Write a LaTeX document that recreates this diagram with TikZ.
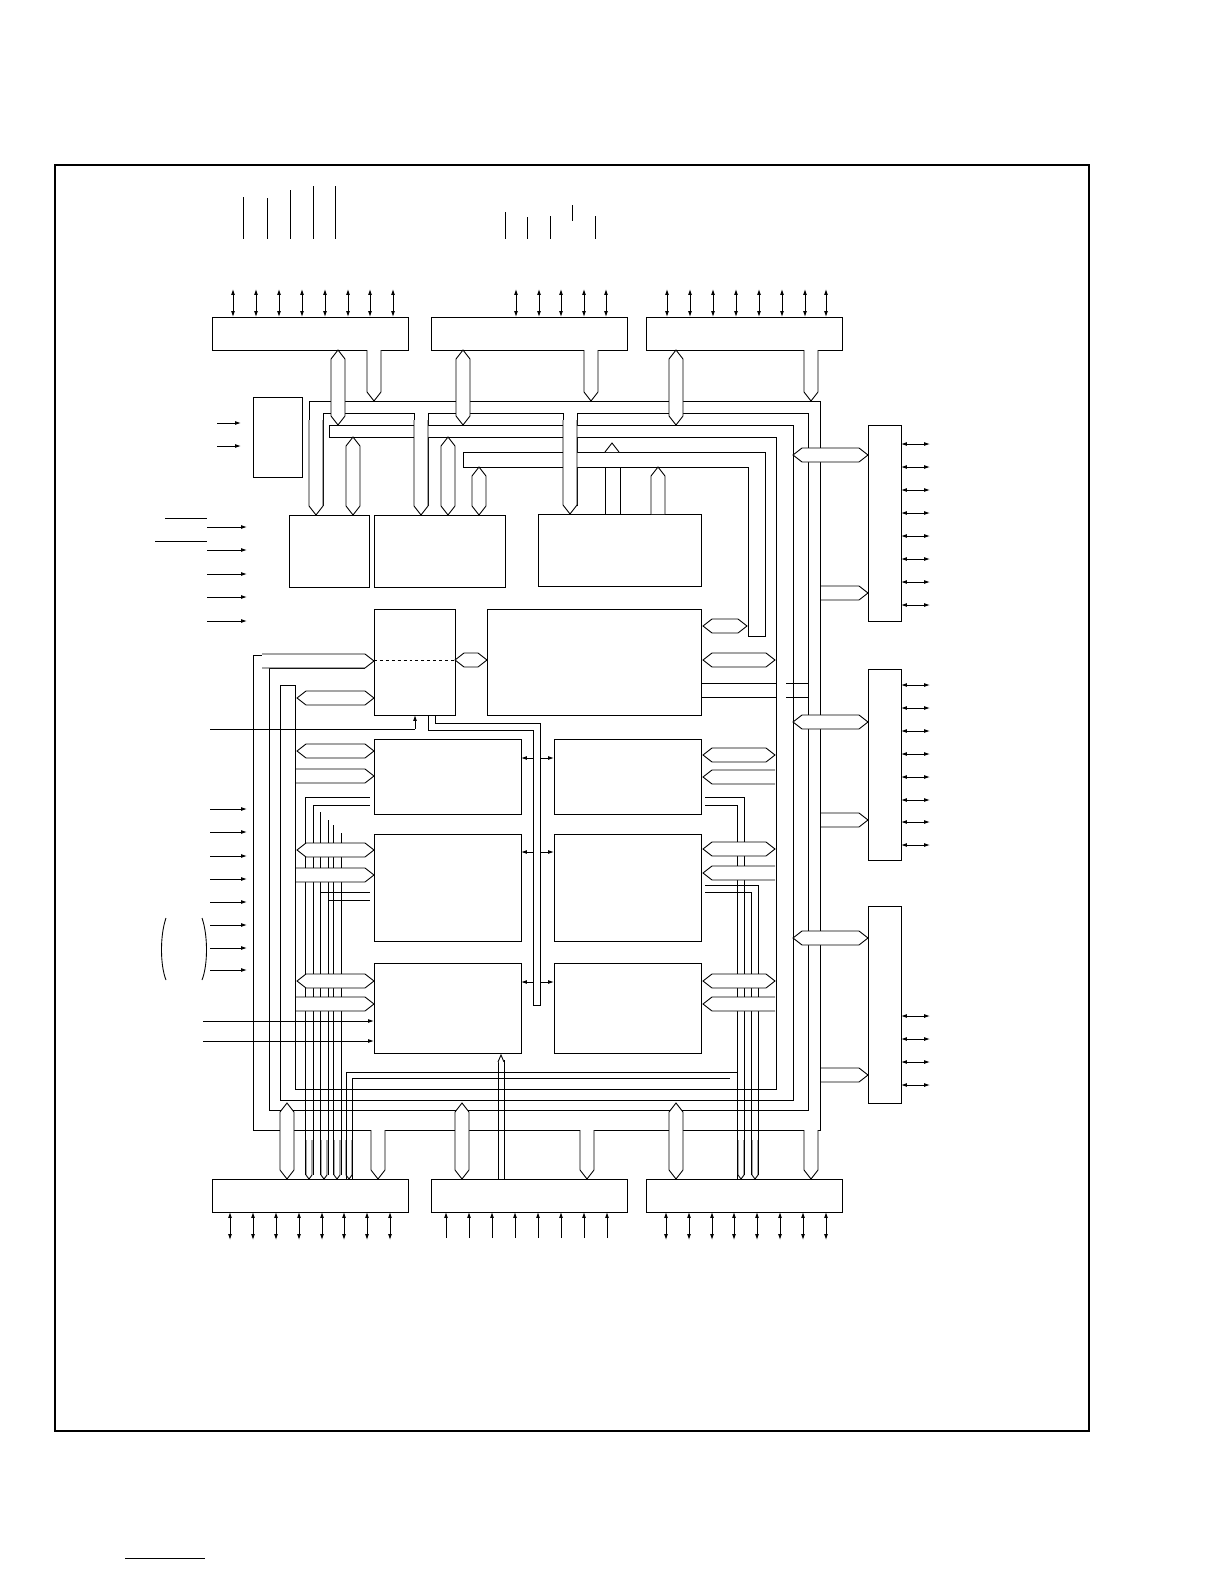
\documentclass[tikz,border=0pt]{standalone}
\usetikzlibrary{arrows.meta}
\newcommand\vbus[3]{\draw[bus] (#1-7,#2+9)--(#1,#2)--(#1+7,#2+9)--(#1+7,#3-9)--(#1,#3)--(#1-7,#3-9)--cycle;}
\newcommand\vbusdn[3]{\draw[bus] (#1-7,#2)--(#1-7,#3-9)--(#1,#3)--(#1+7,#3-9)--(#1+7,#2);}
\newcommand\vbusup[3]{\draw[bus] (#1-7,#3)--(#1-7,#2+9)--(#1,#2)--(#1+7,#2+9)--(#1+7,#3);}
\newcommand\hbus[3]{\draw[bus] (#2+9,#1-7)--(#2,#1)--(#2+9,#1+7)--(#3-9,#1+7)--(#3,#1)--(#3-9,#1-7)--cycle;}
\newcommand\hbusR[3]{\draw[bus] (#2,#1-7)--(#3-9,#1-7)--(#3,#1)--(#3-9,#1+7)--(#2,#1+7);}
\newcommand\hbusL[3]{\draw[bus] (#3,#1-7)--(#2+9,#1-7)--(#2,#1)--(#2+9,#1+7)--(#3,#1+7);}
\newcommand\thinv[3]{\draw[ln] (#1-3,#2)--(#1-3,#3-4)--(#1,#3)--(#1+3,#3-4)--(#1+3,#2);}
\tikzset{ln/.style={line width=0.9pt},bus/.style={ln,fill=white},
 blk/.style={line width=1pt,fill=white},
 dar/.style={ln,{Latex[length=6pt,width=4pt]}-{Latex[length=6pt,width=4pt]}},
 sar/.style={ln,-{Latex[length=6pt,width=4pt]}}}
\begin{document}
\begin{tikzpicture}[x=1.0103bp,y=-1.0103bp]
\useasboundingbox (0,0) rectangle (1224,1584);
\draw[line width=1.2pt] (55,165) rectangle (1089,1431);
\draw[ln] (125,1558)--(205,1558);
\foreach \x/\a in {243/197,267/198,290/190,313/186,335/186,505/212,527/217,550/216,595/216}
  \draw[ln] (\x,\a)--(\x,239);
\draw[ln] (572,205)--(572,221);
\draw[ln] (309,506)--(309,401)--(820,401)--(820,1130)--(253,1130)--(253,655)--(365,655);
\draw[ln] (323,506)--(323,413)--(414,413)--(414,506);
\draw[ln] (428,506)--(428,413)--(563,413)--(563,506);
\draw[ln] (577,506)--(577,413)--(808,413)--(808,1110)--(269,1110)--(269,668)--(365,668);
\draw[bus] (280,685)--(295,685)--(295,1089)--(776,1089)--(776,437)--(329,437)--(329,425)--(793,425)--(793,1100)--(280,1100)--cycle;
\draw[bus] (463,452)--(765,452)--(765,636)--(748,636)--(748,467)--(463,467)--cycle;
\draw[ln] (605,467)--(605,514) (620,467)--(620,514);
\draw[bus] (605,452)--(612,443)--(619,452);
\draw[ln] (701,683)--(776,683) (701,697)--(776,697);
\draw[ln] (786,683)--(808,683) (786,697)--(808,697);
\draw[bus] (428,715)--(428,730)--(533,730)--(533,1005)--(540,1005)--(540,723)--(435,723)--(435,715);
\draw[ln] (346,1179)--(346,1072)--(737,1072)--(737,1179);
\draw[ln] (352,1179)--(352,1078)--(730,1078);
\foreach \x in {305,320,333}{\draw[ln] (\x,797+\x-305)--(\x,1175);}
\foreach \x in {313,328,341}{\draw[ln] (\x,805+\x-313)--(\x,1175);}
\draw[ln] (305,797)--(370,797) (313,805)--(370,805);
\draw[ln] (320,892)--(370,892) (328,900)--(370,900);
\draw[ln] (744,797)--(705,797) (737,805)--(705,805);
\draw[ln] (744,797)--(744,1175) (737,805)--(737,1072);
\draw[ln] (751,892)--(705,892) (758,885)--(705,885);
\draw[ln] (751,892)--(751,1175) (758,885)--(758,1175);
\draw[ln] (498,1060)--(498,1179) (504,1060)--(504,1179);
\draw[bus] (498,1062)--(501,1055)--(504,1062);
\draw[blk] (253,397) rectangle (302,477);
\draw[blk] (289,515) rectangle (369,587);
\draw[blk] (374,515) rectangle (505,587);
\draw[blk] (538,514) rectangle (701,586);
\draw[blk] (374,609) rectangle (455,715);
\draw[blk] (487,609) rectangle (701,715);
\foreach \y/\h in {739/814,834/941,963/1053}{
 \draw[blk] (374,\y) rectangle (521,\h);
 \draw[blk] (554,\y) rectangle (701,\h);}
\draw[ln,dashed] (374,660)--(455,660);
\foreach \x in {212,431,646}{
 \draw[blk] (\x,317) rectangle ++(196,33);
 \draw[blk] (\x,1179) rectangle ++(196,33);}
\draw[blk] (868,425) rectangle (901,621);
\draw[blk] (868,669) rectangle (901,860);
\draw[blk] (868,906) rectangle (901,1103);
\vbus{338}{350}{425}\vbusdn{374}{350}{401}
\vbus{463}{350}{425}\vbusdn{591}{350}{401}
\vbus{676}{350}{425}\vbusdn{811}{350}{401}
\vbusdn{316}{420}{515}\vbus{353}{437}{515}
\vbusdn{421}{420}{515}\vbus{448}{437}{515}\vbus{479}{467}{515}
\vbusdn{570}{420}{514}\vbusup{658}{467}{514}
\hbusR{661}{262}{374}
\hbus{698}{297}{374}\hbus{660}{455}{487}
\hbus{626}{703}{747}\hbus{660}{703}{775}
\foreach \a/\b in {751/776,850/875,981/1004}{
 \hbus{\a}{297}{374}\hbusR{\b}{296}{374}}
\foreach \a/\b in {755/777,849/873,981/1004}{
 \hbus{\a}{703}{775}\hbusL{\b}{703}{775}}
\foreach \a/\b in {455/593,722/820,938/1075}{
 \hbus{\a}{793}{868}\hbusR{\b}{821}{868}}
\vbus{287}{1103}{1179}\vbusdn{378}{1130}{1179}
\vbus{462}{1103}{1179}\vbusdn{587}{1130}{1179}
\vbus{676}{1103}{1179}\vbusdn{811}{1130}{1179}
\foreach \x in {309,324,337,349,741,755}{\thinv{\x}{1140}{1179}}
\draw[sar] (415,729)--(415,715);
\draw[ln] (210,729)--(415,729);
\draw[sar] (203,1021)--(374,1021);
\draw[sar] (203,1041)--(374,1041);
\foreach \y in {758,852,982}{
 \draw[sar] (533,\y)--(521,\y);
 \draw[sar] (540,\y)--(554,\y);}
\foreach \x in {233,256,279,302,325,348,370,393,516,539,561,584,606,667,690,713,736,759,782,805,826}
  \draw[dar] (\x,289)--(\x,317);
\foreach \x in {230,253,276,299,322,344,367,390,666,689,712,734,757,780,803,826}
  \draw[dar] (\x,1212)--(\x,1240);
\foreach \x in {446,469,492,515,538,561,584,607}
  \draw[sar] (\x,1238)--(\x,1212);
\foreach \y in {444,467,490,513,536,559,582,605,685,708,731,754,777,800,822,845,1016,1039,1062,1085}
  \draw[dar] (901,\y)--(930,\y);
\foreach \y in {423,446} \draw[sar] (217,\y)--(241,\y);
\foreach \y in {527,550,574,597,621} \draw[sar] (207,\y)--(247,\y);
\draw[ln] (165,518)--(207,518) (155,541)--(207,541);
\foreach \y in {809,832,856,879,902,925,948,970} \draw[sar] (210,\y)--(247,\y);
\draw[ln] (166,918) .. controls (160,935) and (160,965) .. (166,980);
\draw[ln] (202,918) .. controls (208,935) and (208,965) .. (202,980);
\end{tikzpicture}
\end{document}
